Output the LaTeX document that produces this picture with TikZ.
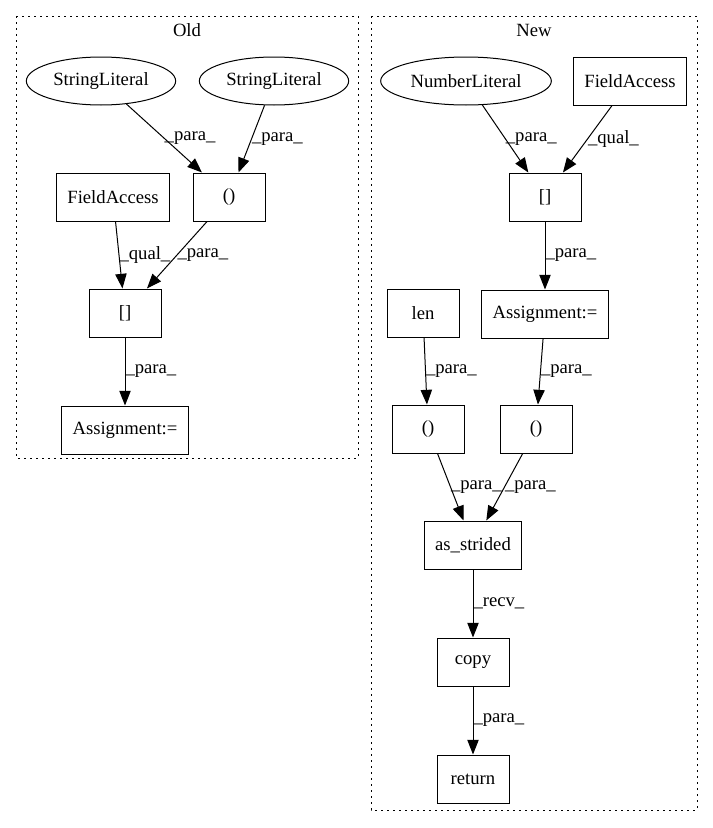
\documentclass[tikz,border=0pt]{standalone}
\usepackage{fontspec}
\setmainfont{Liberation Serif}
\usetikzlibrary{
  arrows.meta,
  positioning,
  shapes.geometric
}
\tikzset{
  ->,
  >={Triangle[length=11pt, width=8.5pt]},
  node distance = 51pt,
  every node/.style = {font=\fontsize{14}{17}\selectfont},
  box/.style = {draw, rectangle, minimum width=54pt, minimum height=36pt, inner xsep=8pt},
  oval/.style = {draw, ellipse, minimum height=36pt, inner sep=0pt},
  lbl/.style = {right, inner sep=0pt},
  cluster/.style = {-, draw, dash pattern=on 1.5pt off 3pt},
}

\begin{document}
\begin{tikzpicture}[x=0.75pt, y=-0.75pt, line width=0.75pt]
  \useasboundingbox (0,0) rectangle (713,828);
  % clusters
  \draw[cluster] (16,16) rectangle (358,458);
  \draw[cluster] (371,16) rectangle (697,810);
  \node (oldtitle) at (187,30) {Old};
  \node (newtitle) at (534,30) {New};

  % old
  \node[oval, minimum width=112pt] (str1) at (101,81) {StringLiteral};
  \node[oval, minimum width=112pt] (str2) at (274,81) {StringLiteral};
  \node[box] (oldfield) at (113,197) {FieldAccess};
  \node[box] (oldparen) at (229,197) {()};
  \node[box] (oldindex) at (125,313) {[]};
  \node[box, below=of oldindex] (oldassign) {Assignment:=};

  % new
  \node[oval, minimum width=128pt] (num) at (466,81) {NumberLiteral};
  \node[box] (newfield) at (630,81) {FieldAccess};
  \node[box] (newindex) at (545,197) {[]};
  \node[box, below=of newindex] (newassign) {Assignment:=};
  \node[box] (len) at (423,313) {len};
  \node[box] (lenparen) at (428,429) {()};
  \node[box] (asgparen) at (536,429) {()};
  \node[box] (strided) at (473,545) {as\_strided};
  \node[box, below=of strided] (copy) {copy};
  \node[box, below=of copy] (return) {return};

  \draw
      (str1) edge node[lbl]{\_para\_} (oldparen)
      (str2) edge node[lbl]{\_para\_} (oldparen)
      (oldfield) edge node[lbl]{\_qual\_} (oldindex)
      (oldparen) edge node[lbl]{\_para\_} (oldindex)
      (oldindex) edge node[lbl]{\_para\_} (oldassign);
  \draw
      (num) edge node[lbl]{\_para\_} (newindex)
      (newfield) edge node[lbl]{\_qual\_} (newindex)
      (newindex) edge node[lbl]{\_para\_} (newassign)
      (len) edge node[lbl]{\_para\_} (lenparen)
      (newassign) edge node[lbl]{\_para\_} (asgparen)
      (lenparen) edge node[lbl]{\_para\_} (strided)
      (asgparen) edge node[lbl]{\_para\_} (strided)
      (strided) edge node[lbl]{\_recv\_} (copy)
      (copy) edge node[lbl]{\_para\_} (return);
\end{tikzpicture}
\end{document}
